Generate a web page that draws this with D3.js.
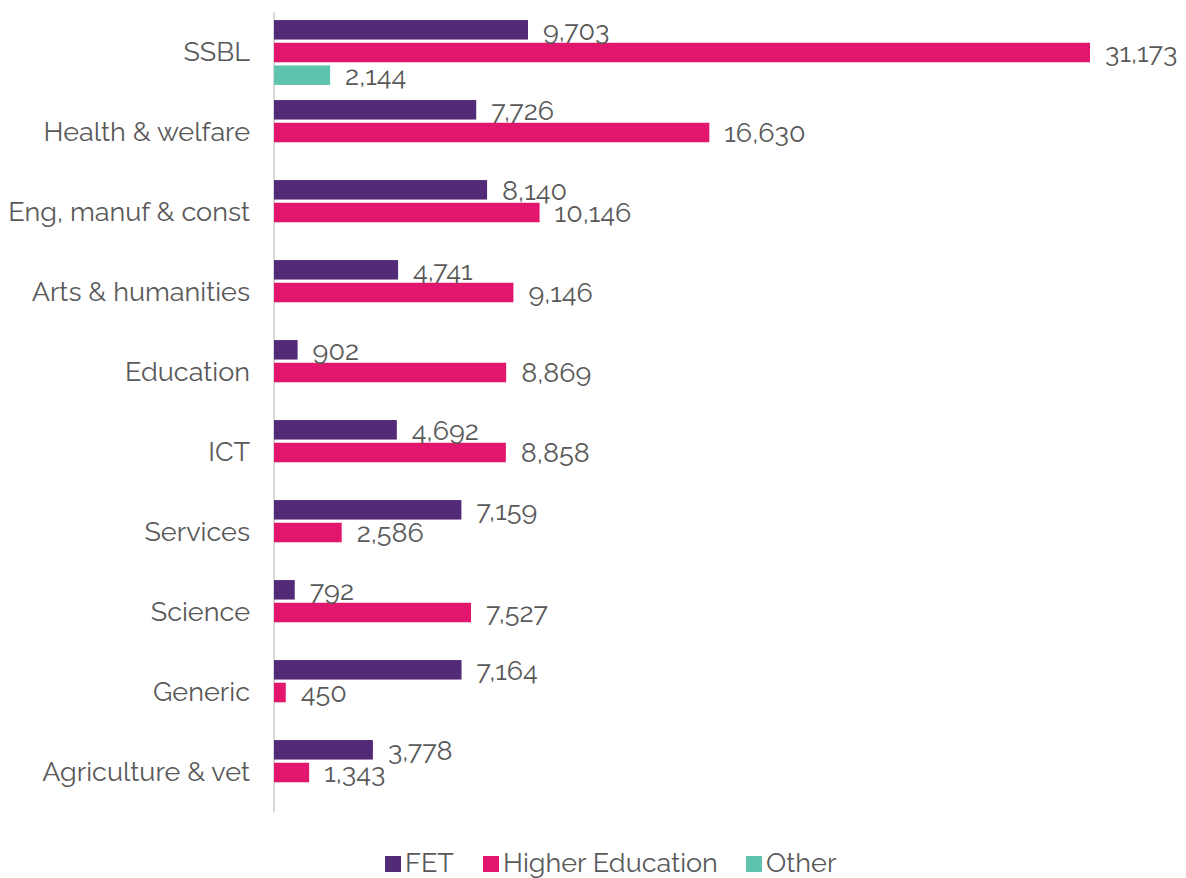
<!DOCTYPE html>
<html>
<head>
<meta charset="utf-8">
<script src="https://cdn.jsdelivr.net/npm/d3@7"></script>
<style>
  body { margin: 0; background: #fff; }
  text { font-family: Raleway, Lato, "Open Sans", sans-serif; fill: #595959; }
</style>
</head>
<body>
<div id="chart"></div>
<script>
// Data
var categories = ["SSBL", "Health & welfare", "Eng, manuf & const", "Arts & humanities",
  "Education", "ICT", "Services", "Science", "Generic", "Agriculture & vet"];
var seriesNames = ["FET", "Higher Education", "Other"];
var fetValues = [9703, 7726, 8140, 4741, 902, 4692, 7159, 792, 7164, 3778];
var heValues = [31173, 16630, 10146, 9146, 8869, 8858, 2586, 7527, 450, 1343];
var otherValues = [2144, null, null, null, null, null, null, null, null, null];
var colors = ["#532a78", "#e3166d", "#5fc4ad"];

var svgWidth = 1186;
var svgHeight = 878;

var svg = d3.select("#chart")
  .append("svg")
  .attr("width", svgWidth)
  .attr("height", svgHeight);

// build rows for the bars
var allValues = [fetValues, heValues, otherValues];
var rows = [];
categories.forEach(function(c, i) {
  seriesNames.forEach(function(s, j) {
    if (allValues[j][i] != null) rows.push({ cat: c, series: s, value: allValues[j][i], color: colors[j] });
  });
});

// scales
var xScale = d3.scaleLinear()
  .domain([0, d3.max(heValues)])
  .range([274, 1090]);

var yScale = d3.scaleBand()
  .domain(categories)
  .range([12.5, 812.5])
  .paddingInner(0.189)
  .paddingOuter(0.0945);

var ySub = d3.scaleBand()
  .domain(seriesNames)
  .range([0, yScale.bandwidth()])
  .paddingInner(0.141);

// category axis
var leftAxis = d3.axisLeft(yScale).tickSize(0).tickPadding(24);
var axisG = svg.append("g")
  .attr("transform", "translate(274, 0)")
  .call(leftAxis);
axisG.select(".domain").attr("stroke", "#d9d9d9").attr("stroke-width", 2)
  .attr("d", "M0,12.5V812.5");
axisG.selectAll("text")
  .attr("font-size", 27)
  .attr("font-family", null)
  .attr("dy", "0.33em");

// bars
svg.selectAll("rect.bar")
  .data(rows)
  .enter()
  .append("rect")
  .attr("class", "bar")
  .attr("x", xScale(0))
  .attr("y", function(d) { return yScale(d.cat) + ySub(d.series); })
  .attr("width", function(d) { return xScale(d.value) - xScale(0); })
  .attr("height", ySub.bandwidth())
  .attr("fill", function(d) { return d.color; });

// value labels
var fmt = d3.format(",");
svg.selectAll("text.val")
  .data(rows)
  .enter()
  .append("text")
  .attr("class", "val")
  .attr("x", function(d) { return xScale(d.value) + 15; })
  .attr("y", function(d) { return yScale(d.cat) + ySub(d.series) + ySub.bandwidth() / 2; })
  .attr("dy", "0.36em")
  .attr("font-size", 27)
  .text(function(d) { return fmt(d.value); });

// legend
var legendX = [385, 483, 746];
var legend = svg.append("g");
seriesNames.forEach(function(s, j) {
  legend.append("rect")
    .attr("x", legendX[j])
    .attr("y", 856)
    .attr("width", 16)
    .attr("height", 16)
    .attr("fill", colors[j]);
  legend.append("text")
    .attr("x", legendX[j] + 20)
    .attr("y", 862)
    .attr("dy", "0.36em")
    .attr("font-size", 27)
    .text(s);
});
</script>
</body>
</html>
